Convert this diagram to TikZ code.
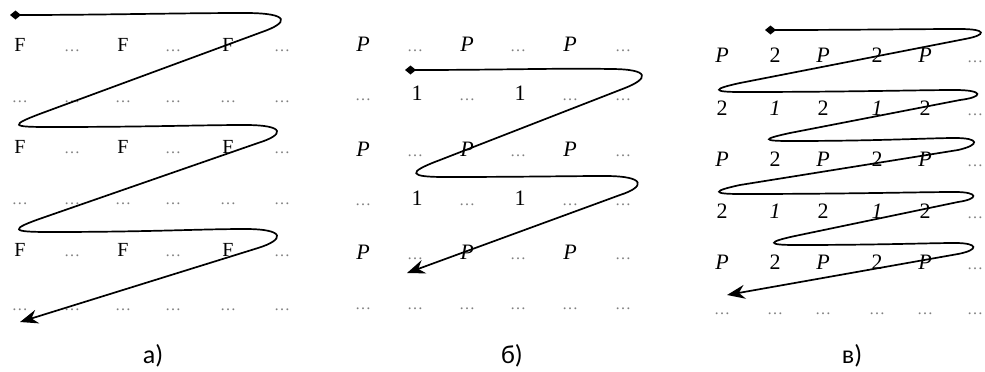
\documentclass[tikz,border=0pt]{standalone}
\usepackage{fontspec}
\setmainfont{Liberation Serif}
\newfontfamily\capfont{Carlito}
\usetikzlibrary{arrows.meta}
\tikzset{
    scan/.style        = {x=1pt, y=-1pt},
    cell/.style        = {anchor=base, inner sep=0pt,
                          font=\fontsize{20}{20}\selectfont},
    pcell/.style       = {cell, font=\fontsize{22}{22}\selectfont},
    gap/.style         = {anchor=base, inner sep=0pt, text=black!50,
                          font=\fontsize{16}{16}\selectfont},
    trace/.style       = {line width=1.7pt,
                          {Diamond[length=11pt,width=9pt]}-{Stealth[length=18pt,width=14pt,inset=6pt]}},
    panel label/.style = {inner sep=0pt, font=\capfont\fontsize{26}{26}\selectfont}
}

\begin{document}
\begin{tikzpicture}[scan]
\useasboundingbox (0,0) rectangle (985,372);
\clip (0,0) rectangle (985,372);

% a) F rows
\foreach \r/\y in {1/51,3/153,5/256} {
    \foreach \c/\x in {1/20,3/123,5/228} \node[cell] (a-\r-\c) at (\x,\y) {F};
    \foreach \c/\x in {2/72,4/173,6/282} \node[gap] (a-\r-\c) at (\x,\y) {\ldots};
}
\foreach \r/\y in {2/102,4/204,6/310}
    \foreach \c/\x in {1/20,2/72,3/123,4/173,5/228,6/282}
        \node[gap] (a-\r-\c) at (\x,\y) {\ldots};
\draw[trace] (10,15) .. controls (100,15) and (180,13) .. (245,13)
    .. controls (292,13) and (288,23) .. (262,32) -- (45,112)
    .. controls (7,126) and (12,127) .. (50,127)
    .. controls (150,127) and (200,125) .. (245,125)
    .. controls (287,125) and (284,135) .. (258,143) -- (45,217)
    .. controls (7,230) and (12,232) .. (50,232)
    .. controls (150,232) and (200,229) .. (245,229)
    .. controls (287,229) and (284,240) .. (258,248) -- (20,322);
\node[panel label] (cap-a) at (153,356) {а)};

% b) P rows and 1 rows
\foreach \r/\y in {1/51,3/156,5/259} {
    \foreach \c/\x in {1/363,3/467,5/570} \node[pcell] (b-\r-\c) at (\x,\y) {\textit{P}};
    \foreach \c/\x in {2/415,4/518,6/623} \node[gap] (b-\r-\c) at (\x,\y) {\ldots};
}
\foreach \r/\y in {2/100,4/205} {
    \foreach \c/\x in {2/417,4/520} \node[pcell] (b-\r-\c) at (\x,\y) {1};
    \foreach \c/\x in {1/363,3/467,5/570,6/623} \node[gap] (b-\r-\c) at (\x,\y) {\ldots};
}
\foreach \c/\x in {1/363,2/415,3/467,4/518,5/570,6/623}
    \node[gap] (b-6-\c) at (\x,309) {\ldots};
\draw[trace] (405,70) .. controls (500,70) and (560,68) .. (610,69)
    .. controls (652,69) and (648,79) .. (625,88) -- (440,160)
    .. controls (405,173) and (410,177) .. (445,177)
    .. controls (520,177) and (570,176) .. (605,176)
    .. controls (647,176) and (645,187) .. (620,195) -- (407,273);
\node[panel label] (cap-b) at (512,356) {б)};

% v) P/2 rows and 2/1 rows
\foreach \r/\y in {1/62,3/166,5/269} {
    \foreach \c/\x in {1/722,3/823,5/925} \node[pcell] (v-\r-\c) at (\x,\y) {\textit{P}};
    \foreach \c/\x in {2/775,4/877} \node[pcell] (v-\r-\c) at (\x,\y) {2};
    \node[gap] (v-\r-6) at (975,\y) {\ldots};
}
\foreach \r/\y in {2/115,4/218} {
    \foreach \c/\x in {1/722,3/823,5/925} \node[pcell] (v-\r-\c) at (\x,\y) {2};
    \foreach \c/\x in {2/775,4/877} \node[pcell] (v-\r-\c) at (\x,\y) {\textit{1}};
    \node[gap] (v-\r-6) at (975,\y) {\ldots};
}
\foreach \c/\x in {1/722,2/775,3/823,4/877,5/925,6/975}
    \node[gap] (v-6-\c) at (\x,314) {\ldots};
\draw[trace] (765,30) .. controls (850,30) and (920,29) .. (960,29)
    .. controls (987,29) and (987,35) .. (965,39) -- (740,83)
    .. controls (712,89) and (712,92) .. (740,92)
    .. controls (850,92) and (920,90) .. (955,90)
    .. controls (984,90) and (984,97) .. (960,100) -- (790,133)
    .. controls (762,139) and (762,141) .. (790,141)
    .. controls (880,141) and (930,138) .. (955,138)
    .. controls (980,138) and (980,145) .. (958,150) -- (740,185)
    .. controls (712,191) and (712,194) .. (740,194)
    .. controls (850,194) and (920,192) .. (955,192)
    .. controls (979,192) and (979,199) .. (958,202) -- (795,236)
    .. controls (767,242) and (767,245) .. (795,245)
    .. controls (880,245) and (930,243) .. (955,243)
    .. controls (979,243) and (979,250) .. (958,254) -- (727,295);
\node[panel label] (cap-v) at (852,356) {в)};
\end{tikzpicture}
\end{document}
